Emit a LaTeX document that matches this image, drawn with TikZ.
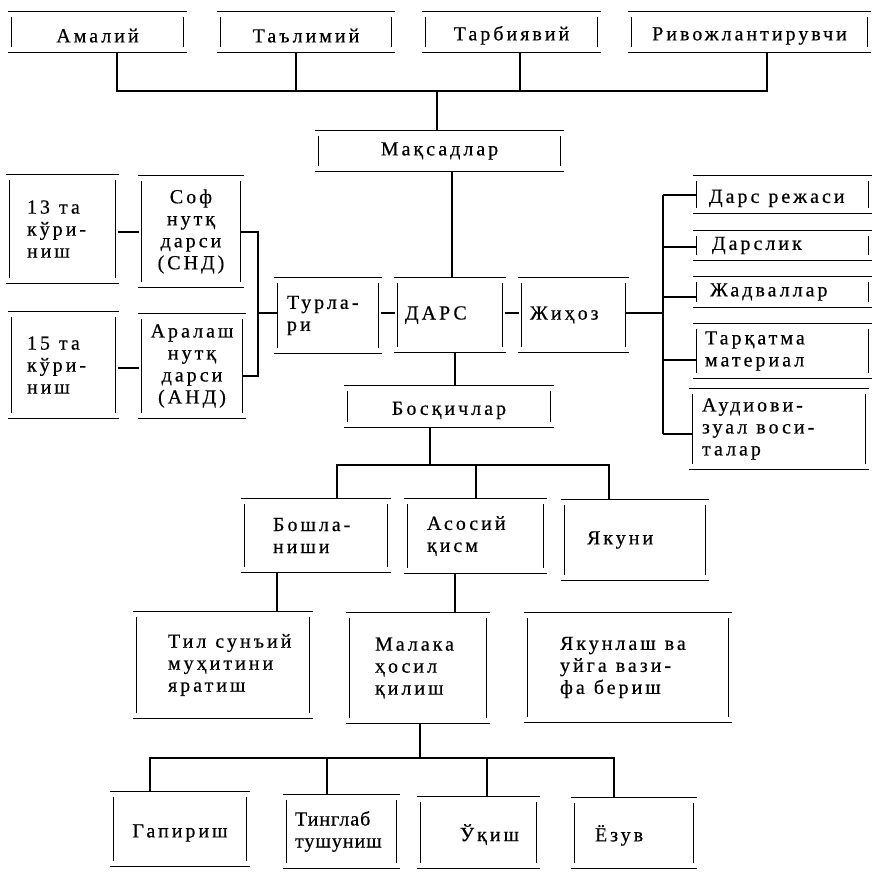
\documentclass[tikz,border=0pt]{standalone}
\usepackage{fontspec}
\setmainfont{Liberation Serif}[LetterSpace=15,FakeBold=0.5]
\newcommand\wsp{\hspace{0.45em}}
\tikzset{bx/.style={inner sep=0pt, font=\fontsize{20}{22}\selectfont},
  low/.style={text height=21pt}}
\newcommand\bxl[8][]{%
  \pgfmathsetmacro\bxw{#5-#3}\pgfmathsetmacro\bxh{#6-#4}%
  \pgfmathsetmacro\bxx{(#3+#5)/2}\pgfmathsetmacro\bxy{(#4+#6)/2}%
  \node[bx, text width=\bxw pt, minimum height=\bxh pt, align=left,
    execute at begin node={\leftskip=#7pt\relax},#1] (#2) at (\bxx,\bxy) {#8};}
\newcommand\bxc[7][]{%
  \pgfmathsetmacro\bxw{#5-#3}\pgfmathsetmacro\bxh{#6-#4}%
  \pgfmathsetmacro\bxx{(#3+#5)/2}\pgfmathsetmacro\bxy{(#4+#6)/2}%
  \node[bx, text width=\bxw pt, minimum height=\bxh pt, align=center,#1] (#2) at (\bxx,\bxy) {#7};}
\begin{document}
\begin{tikzpicture}[x=1pt,y=-1pt,line width=1.2pt]
\fill[white] (0,0) rectangle (872,871);
\useasboundingbox (0,0) rectangle (872,871);
% top row
\bxc[low]{a1}{12}{12}{183}{52}{Амалий}
\bxc[low]{a2}{221}{12}{391}{52}{Таълимий}
\bxc[low]{a3}{426}{12}{597}{52}{Тарбиявий}
\bxc[low]{a4}{632}{12}{867}{52}{Ривожлантирувчи}
\bxc{M}{319}{131}{560}{171}{Мақсадлар}
% middle
\bxl{T}{278}{278}{378}{353}{9}{Турла-\\ри}
\bxl{D}{398}{278}{502}{352}{7}{ДАРС}
\bxl{J}{522}{278}{625}{352}{8}{Жиҳоз}
% left
\bxl{L1}{10}{175}{115}{283}{17}{13\wsp та\\кўри-\\ниш}
\bxc{L2}{142}{176}{240}{287}{Соф\\нутқ\\дарси\\(СНД)}
\bxl{L3}{12}{312}{115}{418}{15}{15\wsp та\\кўри-\\ниш}
\bxc{L4}{142}{314}{242}{418}{Аралаш\\нутқ\\дарси\\(АНД)}
% right
\bxl[low]{R1}{697}{176}{868}{213}{12}{Дарс\wsp режаси}
\bxl{R2}{697}{231}{868}{260}{15}{Дарслик}
\bxl{R3}{697}{277}{868}{307}{13}{Жадваллар}
\bxl{R4}{697}{324}{868}{378}{8}{Тарқатма\\материал}
\bxl{R5}{693}{389}{865}{469}{9}{Аудиови-\\зуал\wsp воси-\\талар}
% stages
\bxc[low]{B}{348}{386}{550}{427}{Босқичлар}
\bxl{C1}{245}{499}{387}{572}{28}{Бошла-\\ниши}
\bxl{C2}{408}{499}{543}{573}{19}{Асосий\\қисм}
\bxl{C3}{565}{500}{705}{580}{22}{Якуни}
\bxl{E1}{137}{612}{309}{718}{31}{Тил\wsp сунъий\\муҳитини\\яратиш}
\bxl{E2}{350}{613}{486}{723}{25}{Малака\\ҳосил\\қилиш}
\bxl{E3}{528}{613}{728}{722}{32}{Якунлаш\wsp ва\\уйга\wsp вази-\\фа\wsp бериш}
\bxc[low]{F1}{114}{792}{246}{866}{Гапириш}
\bxl{F2}{287}{795}{396}{868}{8}{\addfontfeatures{LetterSpace=5}Тинглаб\\тушуниш}
\bxl[low]{F3}{421}{797}{536}{868}{39}{Ўқиш}
\bxl[low]{F4}{575}{798}{693}{868}{20}{Ёзув}
% frames
\foreach \n in {a1,a2,a3,a4,M,T,D,J,L1,L2,L3,L4,R1,R2,R3,R4,R5,B,C1,C2,C3,E1,E2,E3,F1,F2,F3,F4}{
  \draw ([xshift=-3pt]\n.north west) -- ([xshift=3pt]\n.north east);
  \draw ([xshift=-3pt]\n.south west) -- ([xshift=3pt]\n.south east);
  \draw ([yshift=-6pt]\n.north west) -- ([yshift=6pt]\n.south west);
  \draw ([yshift=-6pt]\n.north east) -- ([yshift=6pt]\n.south east);
}
% top connectors
\coordinate (s1) at (117,91); \coordinate (s2) at (296,91);
\coordinate (s3) at (520,91); \coordinate (s4) at (767,91);
\coordinate (m0) at (437,91);
\draw (a1.south -| s1) -- (s1) -- (s4) -- (a4.south -| s4);
\draw (a2.south -| s2) -- (s2);
\draw (a3.south -| s3) -- (s3);
\draw (m0) -- (M.north -| m0);
\coordinate (xm) at (452,0);
\draw (M.south -| xm) -- (D.north -| xm);
% left connectors
\coordinate (yl1) at (0,232); \coordinate (yl3) at (0,368);
\draw[shorten <=2pt,shorten >=2pt] (L1.east |- yl1) -- (L2.west |- yl1);
\draw[shorten <=2pt,shorten >=2pt] (L3.east |- yl3) -- (L4.west |- yl3);
\coordinate (va) at (258,232); \coordinate (vb) at (258,376); \coordinate (vm) at (258,313);
\draw (L2.east |- va) -- (va) -- (vb) -- (L4.east |- vb);
\draw (vm) -- (T.west |- vm);
\coordinate (yd) at (0,313);
\draw[shorten <=2pt,shorten >=2pt] (T.east |- yd) -- (D.west |- yd);
\draw[shorten <=2pt,shorten >=2pt] (D.east |- yd) -- (J.west |- yd);
% right connectors
\coordinate (rt) at (663,195); \coordinate (r2) at (663,247);
\coordinate (r3) at (663,297); \coordinate (r4) at (663,360);
\coordinate (rb) at (663,434); \coordinate (rj) at (663,313);
\draw (J.east |- yd) -- (rj);
\draw (rt) -- (rb);
\draw (rt) -- (R1.west |- rt);
\draw (r2) -- (R2.west |- r2);
\draw (r3) -- (R3.west |- r3);
\draw (r4) -- (R4.west |- r4);
\draw (rb) -- (R5.west |- rb);
% stages
\coordinate (xb) at (455,0);
\draw (D.south -| xb) -- (B.north -| xb);
\coordinate (bc) at (430,465); \coordinate (b1) at (337,465);
\coordinate (b2) at (476,465); \coordinate (b3) at (609,465);
\draw (B.south -| bc) -- (bc);
\draw (C1.north -| b1) -- (b1) -- (b3) -- (C3.north -| b3);
\draw (b2) -- (C2.north -| b2);
\coordinate (xe1) at (277,0); \draw (C1.south -| xe1) -- (E1.north -| xe1);
\coordinate (xe2) at (455,0); \draw (C2.south -| xe2) -- (E2.north -| xe2);
\coordinate (ec) at (420,758); \coordinate (f1) at (150,758);
\coordinate (f2) at (327,758); \coordinate (f3) at (487,758); \coordinate (f4) at (614,758);
\draw (E2.south -| ec) -- (ec);
\draw (F1.north -| f1) -- (f1) -- (f4) -- (F4.north -| f4);
\draw (f2) -- (F2.north -| f2);
\draw (f3) -- (F3.north -| f3);
\end{tikzpicture}
\end{document}
